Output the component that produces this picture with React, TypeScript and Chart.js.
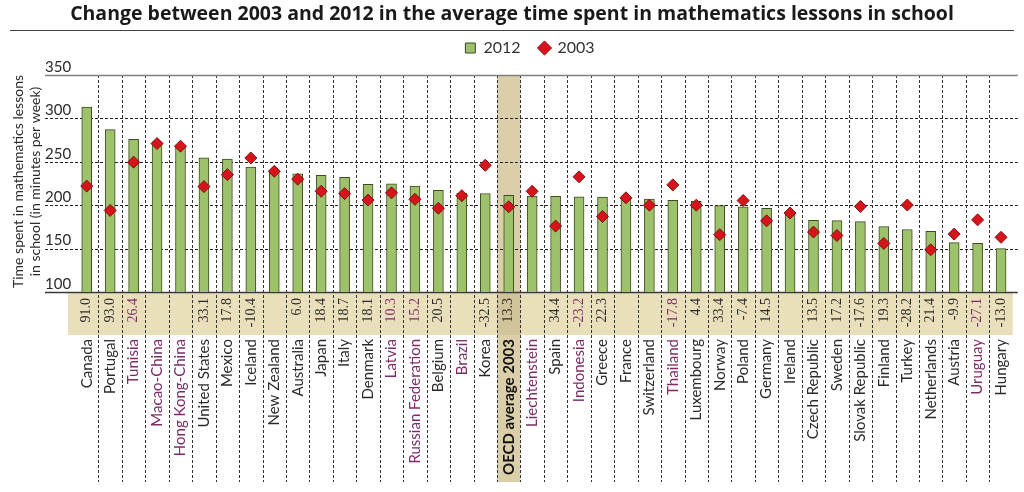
import React, { useEffect, useRef } from "react";
import { Chart, registerables } from "chart.js";

Chart.register(...registerables);

const titleText =
  "Change between 2003 and 2012 in the average time spent in mathematics lessons in school";
const yTitleLines = ["Time spent in mathematics lessons", "in school (in minutes per week)"];

const categories = [
  "Canada", "Portugal", "Tunisia", "Macao-China", "Hong Kong-China", "United States",
  "Mexico", "Iceland", "New Zealand", "Australia", "Japan", "Italy", "Denmark", "Latvia",
  "Russian Federation", "Belgium", "Brazil", "Korea", "OECD average 2003", "Liechtenstein",
  "Spain", "Indonesia", "Greece", "France", "Switzerland", "Thailand", "Luxembourg",
  "Norway", "Poland", "Germany", "Ireland", "Czech Republic", "Sweden", "Slovak Republic",
  "Finland", "Turkey", "Netherlands", "Austria", "Uruguay", "Hungary",
];

const changeLabels = [
  "91.0", "93.0", "26.4", "", "", "33.1", "17.8", "-10.4", "", "6.0", "18.4", "18.7",
  "18.1", "10.3", "15.2", "20.5", "", "-32.5", "13.3", "", "34.4", "-23.2", "22.3", "",
  "", "-17.8", "4.4", "33.4", "-7.4", "14.5", "", "13.5", "17.2", "-17.6", "19.3",
  "-28.2", "21.4", "-9.9", "-27.1", "-13.0",
];

const time2012 = [
  313, 287, 276, 273, 268, 254.5, 253, 244, 239, 236, 234.5, 232, 224, 224.5, 222, 217,
  214, 213.5, 211.5, 210.5, 210.3, 209.5, 209.3, 208, 207, 205.6, 204.4, 199.5, 198,
  196.5, 190.5, 182.5, 182.3, 181, 175.3, 172, 170, 156.8, 156, 150,
];

const time2003 = [
  222, 194, 249.6, 271, 268, 221.4, 235.2, 254.4, 239, 230, 216.1, 213.3, 205.9, 214.2,
  206.8, 196.5, 211, 246, 198.2, 216, 175.9, 232.7, 187, 208.5, 200, 223.4, 200, 166.1,
  205.4, 182, 191, 169, 165.1, 198.6, 156, 200.2, 148.6, 166.7, 183.1, 163,
];

const partners = [
  "Tunisia", "Macao-China", "Hong Kong-China", "Latvia", "Russian Federation", "Brazil",
  "Liechtenstein", "Indonesia", "Thailand", "Uruguay",
];

const yTicks = [100, 150, 200, 250, 300, 350];

const TEXT = "#2b2b2b";
const PURPLE = "#7d2c68";
const OECD_NAME = "OECD average 2003";

const labelColor = (i: number) => (partners.includes(categories[i]) ? PURPLE : TEXT);

const decor = {
  id: "decor",
  beforeDraw(chart: any) {
    const { ctx, chartArea } = chart;
    const x = chart.scales.x;
    const xn = chart.scales.xn;
    const half = (x.getPixelForValue(1) - x.getPixelForValue(0)) / 2;
    const top = chartArea.top;
    const stripTop = chartArea.bottom;
    const stripBottom = x.bottom;
    const bottom = xn.bottom;
    ctx.save();
    ctx.fillStyle = "#e9dfba";
    ctx.fillRect(chartArea.left - 7, stripTop, chartArea.right - chartArea.left + 7, stripBottom - stripTop);
    const oi = categories.indexOf(OECD_NAME);
    const ox = x.getPixelForValue(oi);
    ctx.fillStyle = "#dbcfaa";
    ctx.fillRect(ox - half, top, half * 2, bottom - top);
    ctx.fillStyle = "#d1c49a";
    ctx.fillRect(ox - half, stripTop, half * 2, stripBottom - stripTop);
    ctx.restore();
  },
  beforeDatasetsDraw(chart: any) {
    const { ctx, chartArea } = chart;
    const x = chart.scales.x;
    const y = chart.scales.y;
    const xn = chart.scales.xn;
    const half = (x.getPixelForValue(1) - x.getPixelForValue(0)) / 2;
    const left = y.left;
    const right = chartArea.right + 5;
    ctx.save();
    ctx.strokeStyle = "#333";
    ctx.lineWidth = 1;
    ctx.setLineDash([3, 2]);
    for (let i = 0; i < categories.length - 1; i++) {
      const px = Math.round(x.getPixelForValue(i) + half) + 0.5;
      ctx.beginPath();
      ctx.moveTo(px, chartArea.top);
      ctx.lineTo(px, xn.bottom);
      ctx.stroke();
    }
    yTicks.forEach((v) => {
      const py = Math.round(y.getPixelForValue(v)) + 0.5;
      ctx.beginPath();
      if (v === 350) {
        ctx.setLineDash([]);
        ctx.strokeStyle = "#7f7f7f";
        ctx.lineWidth = 1.5;
      } else if (v === 100) {
        ctx.setLineDash([]);
        ctx.strokeStyle = "#3a3a3a";
        ctx.lineWidth = 1.5;
      } else {
        ctx.setLineDash([3, 2]);
        ctx.strokeStyle = "#222";
        ctx.lineWidth = 1;
      }
      ctx.moveTo(left, py);
      ctx.lineTo(right, py);
      ctx.stroke();
    });
    ctx.restore();
  },
  afterDraw(chart: any) {
    const { ctx, chartArea } = chart;
    ctx.save();
    ctx.fillStyle = "#1a1a1a";
    ctx.font = "bold 19.5px 'Open Sans'";
    ctx.textAlign = "center";
    ctx.textBaseline = "middle";
    ctx.fillText(titleText, 512, 14);
    ctx.strokeStyle = "#444";
    ctx.lineWidth = 1;
    ctx.beginPath();
    ctx.moveTo(10, 30.5);
    ctx.lineTo(1014, 30.5);
    ctx.stroke();
    ctx.fillStyle = TEXT;
    ctx.font = "14px Lato";
    const cy = (chartArea.top + chartArea.bottom) / 2 - 2;
    [18, 35].forEach((cx, i) => {
      ctx.save();
      ctx.translate(cx, cy);
      ctx.rotate(-Math.PI / 2);
      ctx.fillText(yTitleLines[i], 0, 0);
      ctx.restore();
    });
    ctx.restore();
  },
};

export default function App() {
  const ref = useRef<HTMLCanvasElement | null>(null);
  useEffect(() => {
    document.body.style.margin = "0";
    const canvas = ref.current!;
    const chart = new Chart(canvas, {
      type: "bar",
      data: {
        labels: categories,
        datasets: [
          {
            type: "bar",
            label: "2012",
            data: time2012,
            backgroundColor: "#9dc26b",
            borderColor: "#3d4b22",
            borderWidth: 1,
            barThickness: 10,
            order: 1,
          } as any,
          {
            type: "line",
            label: "2003",
            data: time2003,
            showLine: false,
            pointStyle: "rectRot",
            pointRadius: 6,
            pointHoverRadius: 6,
            backgroundColor: "#d7141c",
            borderColor: "#7e1012",
            pointBorderWidth: 1,
            borderWidth: 1,
            order: 0,
          } as any,
        ],
      },
      options: {
        responsive: false,
        animation: false,
        devicePixelRatio: 1,
        events: [],
        layout: { padding: { left: 45, right: 9, top: 21, bottom: 10 }, autoPadding: false },
        plugins: {
          title: { display: false },
          legend: {
            labels: {
              usePointStyle: true,
              boxWidth: 10,
              boxHeight: 10,
              color: "#333",
              font: { family: "Lato", size: 16 },
              padding: 19,
              generateLabels: (c: any) => {
                const items = (Chart.defaults as any).plugins.legend.labels.generateLabels(c);
                items.forEach((it: any) => {
                  it.pointStyle = it.datasetIndex === 0 ? "rect" : "rectRot";
                });
                return items;
              },
              sort: (a: any, b: any) => a.datasetIndex - b.datasetIndex,
            },
          },
          tooltip: { enabled: false },
        },
        scales: {
          y: {
            min: 100,
            max: 350,
            ticks: {
              stepSize: 50,
              crossAlign: "far",
              labelOffset: -8,
              padding: 0,
              color: TEXT,
              font: { family: "Lato", size: 15 },
            },
            grid: { display: false, drawTicks: false },
            border: { display: false },
            afterFit: (s: any) => {
              s.width = 30;
            },
          },
          xt: {
            type: "category",
            position: "top",
            offset: true,
            grid: { display: false, drawTicks: false },
            border: { display: false },
            ticks: { display: false },
            afterFit: (s: any) => {
              s.height = 9;
            },
          },
          x: {
            type: "category",
            position: "bottom",
            offset: true,
            weight: 0,
            grid: { display: false, drawTicks: false },
            border: { display: false },
            ticks: {
              autoSkip: false,
              minRotation: 90,
              maxRotation: 90,
              padding: 6,
              callback: (_v: any, i: number) => changeLabels[i],
              color: (c: any) => labelColor(c.index),
              font: { family: "Liberation Serif", size: 14 },
            },
            afterFit: (s: any) => {
              s.height = 43;
            },
          },
          xn: {
            type: "category",
            position: "bottom",
            offset: true,
            weight: 1,
            grid: { display: false, drawTicks: false },
            border: { display: false },
            ticks: {
              autoSkip: false,
              minRotation: 90,
              maxRotation: 90,
              padding: 4,
              color: (c: any) => (categories[c.index] === OECD_NAME ? "#111" : labelColor(c.index)),
              font: (c: any) => ({
                family: "Lato",
                size: 15,
                weight: categories[c.index] === OECD_NAME ? "bold" : "normal",
              }),
            },
            afterFit: (s: any) => {
              s.height = 147;
            },
          },
        },
      } as any,
      plugins: [decor],
    });
    return () => chart.destroy();
  }, []);
  return <canvas ref={ref} width={1024} height={492} style={{ display: "block" }} />;
}
